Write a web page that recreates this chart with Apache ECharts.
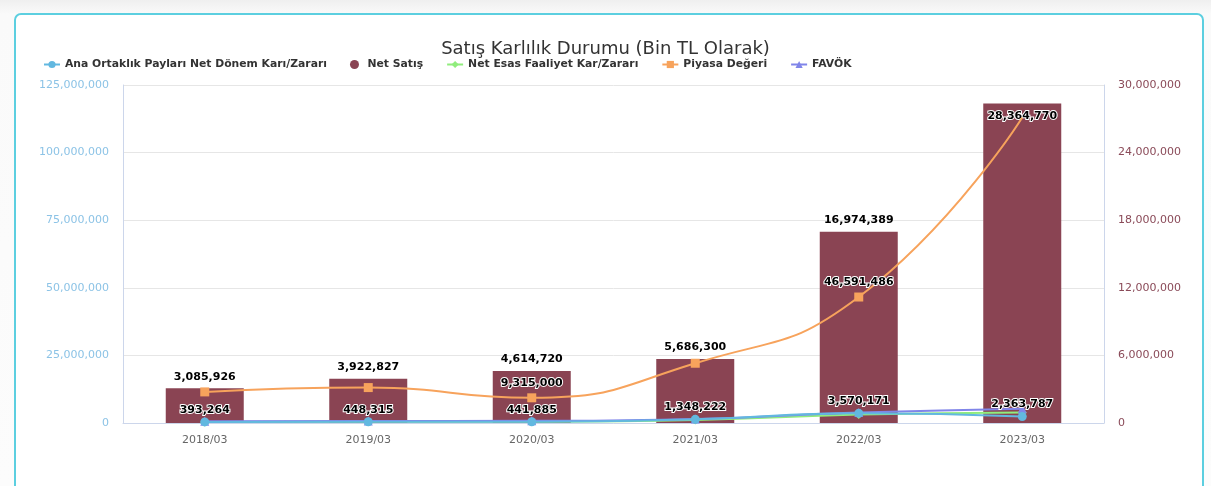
<!DOCTYPE html>
<html>
<head>
<meta charset="utf-8">
<script src="https://cdn.jsdelivr.net/npm/echarts@6/dist/echarts.min.js"></script>
<style>
html,body{margin:0;padding:0;width:1211px;height:486px;overflow:hidden;
  background:linear-gradient(#efefef 0px,#fafafa 14px,#fcfcfc 100%);}
.card{position:absolute;left:14px;top:13px;width:1190px;height:500px;
  border:2px solid #5ccfe0;border-radius:7px;background:#fff;box-sizing:border-box;}
#chart{position:absolute;left:0;top:0;width:1211px;height:486px;}
</style>
</head>
<body>
<div class="card"></div>
<div id="chart"></div>
<script>
// kategoriler
var periods = ['2018/03', '2019/03', '2020/03', '2021/03', '2022/03', '2023/03'];
// seriler (Bin TL)
var anaOrtaklik = [393264, 448315, 441885, 1348222, 3570171, 2363787];
var netSatis = [3085926, 3922827, 4614720, 5686300, 16974389, 28364770];
var netEsas = [400000, 460000, 500000, 1100000, 3100000, 3900000];
var piyasaDegeri = [11500000, 13100000, 9315000, 22100000, 46591486, 113000000];
var favok = [650000, 700000, 800000, 1500000, 3850000, 5300000];
// eksen tikleri
var leftTicks = [0, 25000000, 50000000, 75000000, 100000000, 125000000];
var rightTicks = [0, 6000000, 12000000, 18000000, 24000000, 30000000];
// piyasa degeri etiketleri sadece bu noktalarda gorunuyor
var piyasaLabelIdx = [2, 4];

function fmt(v) {
	return String(Math.round(v)).replace(/\B(?=(\d{3})+(?!\d))/g, ',');
}

var lblStyle = {
	show: true,
	fontFamily: 'DejaVu Sans',
	fontSize: 11,
	fontWeight: 'bold',
	color: '#000',
	textBorderColor: '#fff',
	textBorderWidth: 2,
	formatter: function (p) { return fmt(p.value); }
};

var barData = netSatis.map(function (v, i) {
	if (i === netSatis.length - 1) {
		return { value: v, label: { position: 'insideTop', distance: 7, textBorderWidth: 2 } };
	}
	return v;
});

var piyasaData = piyasaDegeri.map(function (v, i) {
	var item = { value: v, label: { show: piyasaLabelIdx.indexOf(i) >= 0 } };
	if (i === piyasaDegeri.length - 1) item.symbolSize = 0;
	return item;
});

var chart = echarts.init(document.getElementById('chart'));
chart.setOption({
	animation: false,
	textStyle: { fontFamily: 'DejaVu Sans' },
	title: {
		text: 'Satış Karlılık Durumu (Bin TL Olarak)',
		left: 'center',
		top: 35,
		textStyle: { fontFamily: 'DejaVu Sans', fontSize: 18, fontWeight: 'normal', color: '#333' }
	},
	legend: {
		left: 38,
		top: 54,
		itemWidth: 16,
		itemHeight: 9,
		itemGap: 23,
		textStyle: { fontFamily: 'DejaVu Sans', fontSize: 10.8, fontWeight: 'bold', color: '#333' },
		data: [
			'Ana Ortaklık Payları Net Dönem Karı/Zararı',
			{ name: 'Net Satış', icon: 'circle' },
			'Net Esas Faaliyet Kar/Zararı',
			'Piyasa Değeri',
			'FAVÖK'
		]
	},
	grid: { left: 123, right: 107, top: 85, bottom: 63 },
	xAxis: {
		type: 'category',
		data: periods,
		axisTick: { show: false },
		axisLine: { lineStyle: { color: '#ccd6eb' } },
		axisLabel: { color: '#666', fontSize: 11, margin: 12 }
	},
	yAxis: [{
		type: 'value',
		min: leftTicks[0],
		max: leftTicks[leftTicks.length - 1],
		interval: leftTicks[1] - leftTicks[0],
		axisLine: { show: true, lineStyle: { color: '#ccd6eb' } },
		splitLine: { lineStyle: { color: '#e6e6e6' } },
		axisLabel: { color: '#8cc3e6', fontSize: 11, margin: 14, formatter: fmt }
	}, {
		type: 'value',
		min: rightTicks[0],
		max: rightTicks[rightTicks.length - 1],
		interval: rightTicks[1] - rightTicks[0],
		axisLine: { show: true, lineStyle: { color: '#ccd6eb' } },
		splitLine: { show: false },
		axisLabel: { color: '#8a4a58', fontSize: 11, margin: 14, formatter: fmt }
	}],
	series: [{
		name: 'Ana Ortaklık Payları Net Dönem Karı/Zararı',
		type: 'line',
		smooth: true,
		z: 4,
		color: '#62b8e0',
		symbol: 'circle',
		symbolSize: 9,
		lineStyle: { width: 2 },
		label: Object.assign({}, lblStyle, { position: 'top', distance: 2 }),
		data: anaOrtaklik
	}, {
		name: 'Net Satış',
		type: 'bar',
		yAxisIndex: 1,
		z: 1,
		barWidth: 78,
		color: '#8a4453',
		label: Object.assign({}, lblStyle, { position: 'top', distance: 6, textBorderWidth: 0 }),
		data: barData
	}, {
		name: 'Net Esas Faaliyet Kar/Zararı',
		type: 'line',
		smooth: true,
		z: 3,
		color: '#90ed7d',
		symbol: 'diamond',
		symbolSize: 9,
		lineStyle: { width: 2 },
		data: netEsas
	}, {
		name: 'Piyasa Değeri',
		type: 'line',
		smooth: true,
		z: 3,
		color: '#f7a35c',
		symbol: 'rect',
		symbolSize: 9,
		lineStyle: { width: 2 },
		label: Object.assign({}, lblStyle, { position: 'top', distance: 5 }),
		data: piyasaData
	}, {
		name: 'FAVÖK',
		type: 'line',
		smooth: true,
		z: 3,
		color: '#8085e9',
		symbol: 'triangle',
		symbolSize: 9,
		lineStyle: { width: 2 },
		data: favok
	}]
});
</script>
</body>
</html>
